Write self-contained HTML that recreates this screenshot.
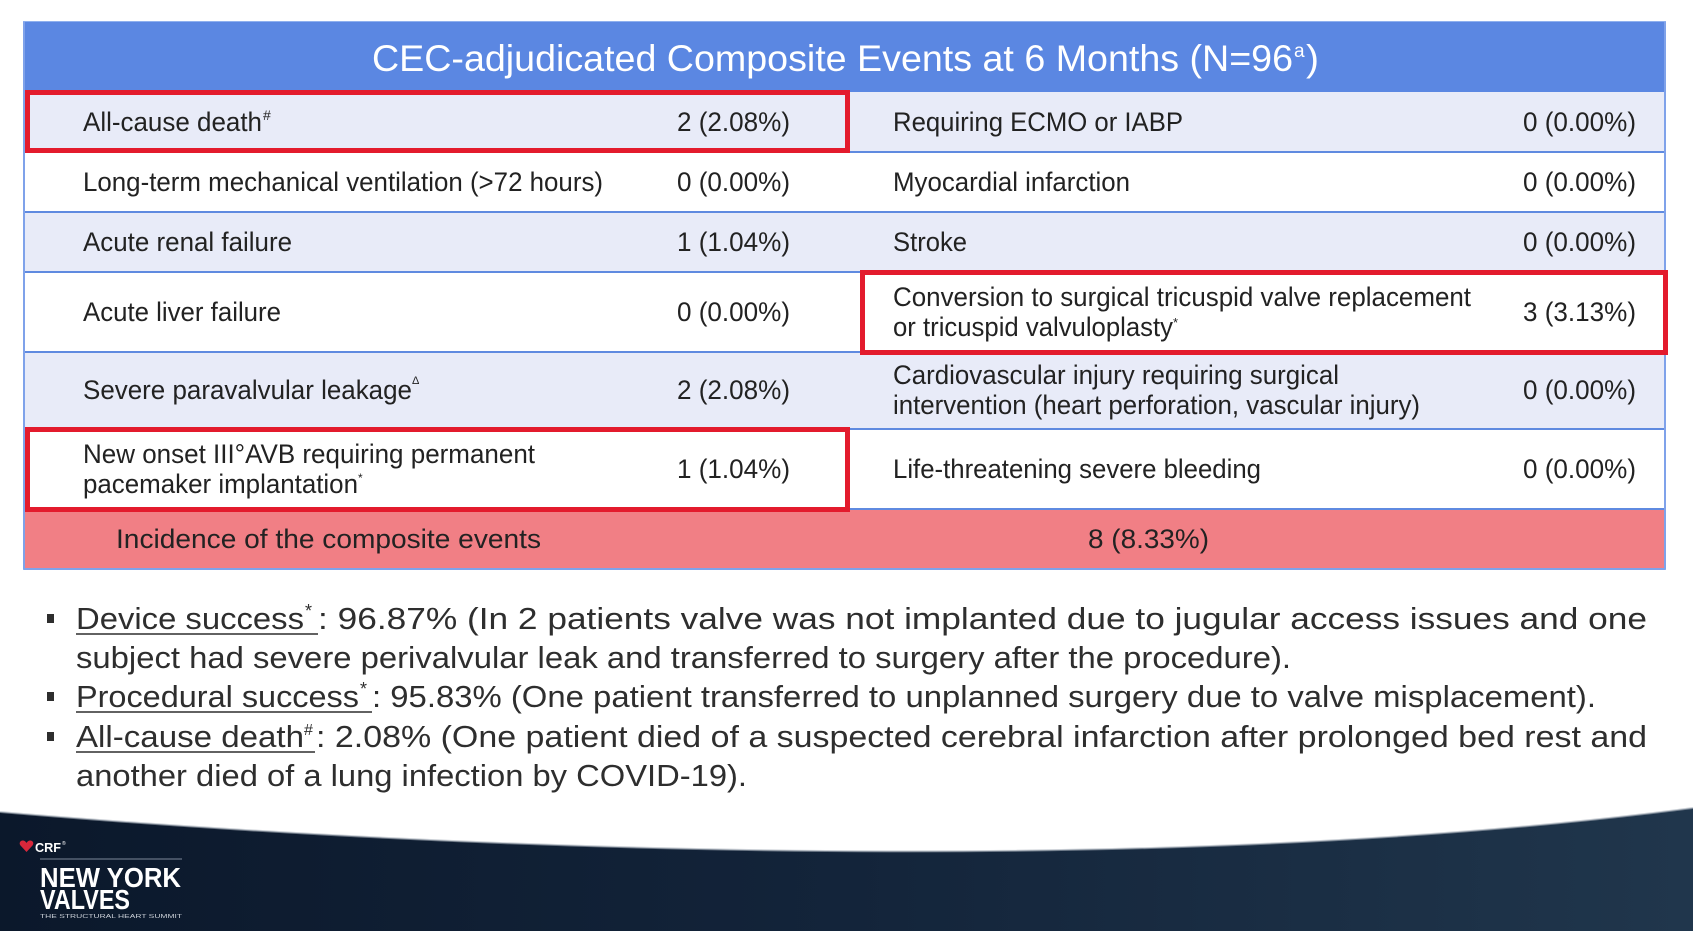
<!DOCTYPE html>
<html>
<head>
<meta charset="utf-8">
<style>
html,body{margin:0;padding:0;background:#fff;}
svg{display:block;}
text{font-family:"Liberation Sans",Arial,sans-serif;}
</style>
</head>
<body>
<svg width="1693" height="931" viewBox="0 0 1693 931" xmlns="http://www.w3.org/2000/svg">
<defs>
<linearGradient id="band" x1="0" y1="0" x2="1" y2="0">
<stop offset="0" stop-color="#0b182b"/>
<stop offset="0.5" stop-color="#13243a"/>
<stop offset="1" stop-color="#20364c"/>
</linearGradient>
</defs>
<rect x="0" y="0" width="1693" height="931" fill="#ffffff"/>

<!-- Table -->
<rect x="24" y="22" width="1641" height="547" fill="#ffffff" stroke="#8fb0ee" stroke-width="2"/>
<rect x="24" y="22" width="1641" height="70" fill="#5b87e2"/>
<rect x="25" y="92" width="1639" height="60" fill="#e8ebf8"/>
<rect x="25" y="152" width="1639" height="60" fill="#ffffff"/>
<rect x="25" y="212" width="1639" height="60" fill="#e8ebf8"/>
<rect x="25" y="272" width="1639" height="80" fill="#ffffff"/>
<rect x="25" y="352" width="1639" height="77" fill="#e8ebf8"/>
<rect x="25" y="429" width="1639" height="80" fill="#ffffff"/>
<rect x="25" y="509" width="1639" height="59" fill="#f17f85"/>
<g stroke="#5f8ae0" stroke-width="2">
<line x1="24" y1="152" x2="1665" y2="152"/>
<line x1="24" y1="212" x2="1665" y2="212"/>
<line x1="24" y1="272" x2="1665" y2="272"/>
<line x1="24" y1="352" x2="1665" y2="352"/>
<line x1="24" y1="429" x2="1665" y2="429"/>
<line x1="24" y1="509" x2="1665" y2="509"/>
</g>
<line x1="24" y1="22" x2="24" y2="569" stroke="#7fa2ea" stroke-width="2"/>
<line x1="1665" y1="22" x2="1665" y2="569" stroke="#7fa2ea" stroke-width="2"/>
<line x1="24" y1="569" x2="1665" y2="569" stroke="#7fa2ea" stroke-width="2"/>

<!-- Title -->
<text x="372" y="71" font-size="37" fill="#ffffff" textLength="921" lengthAdjust="spacingAndGlyphs">CEC-adjudicated Composite Events at 6 Months (N=96</text>
<text x="1294" y="57" font-size="19" fill="#ffffff">a</text>
<text x="1306" y="71" font-size="37" fill="#ffffff" textLength="13" lengthAdjust="spacingAndGlyphs">)</text>

<!-- Left column -->
<g font-size="26.5" fill="#222222">
<text x="83" y="131" textLength="179" lengthAdjust="spacingAndGlyphs">All-cause death</text>
<text x="263" y="120" font-size="14">#</text>
<text x="83" y="191" textLength="520" lengthAdjust="spacingAndGlyphs">Long-term mechanical ventilation (&gt;72 hours)</text>
<text x="83" y="251" textLength="209" lengthAdjust="spacingAndGlyphs">Acute renal failure</text>
<text x="83" y="321" textLength="198" lengthAdjust="spacingAndGlyphs">Acute liver failure</text>
<text x="83" y="399" textLength="329" lengthAdjust="spacingAndGlyphs">Severe paravalvular leakage</text>
<text x="412" y="384" font-size="11">Δ</text>
<text x="83" y="463" textLength="452" lengthAdjust="spacingAndGlyphs">New onset III°AVB requiring permanent</text>
<text x="83" y="493" textLength="275" lengthAdjust="spacingAndGlyphs">pacemaker implantation</text>
<text x="358" y="482" font-size="12">*</text>

<text x="677" y="131" textLength="113" lengthAdjust="spacingAndGlyphs">2 (2.08%)</text>
<text x="677" y="191" textLength="113" lengthAdjust="spacingAndGlyphs">0 (0.00%)</text>
<text x="677" y="251" textLength="113" lengthAdjust="spacingAndGlyphs">1 (1.04%)</text>
<text x="677" y="321" textLength="113" lengthAdjust="spacingAndGlyphs">0 (0.00%)</text>
<text x="677" y="399" textLength="113" lengthAdjust="spacingAndGlyphs">2 (2.08%)</text>
<text x="677" y="478" textLength="113" lengthAdjust="spacingAndGlyphs">1 (1.04%)</text>

<!-- Right column -->
<text x="893" y="131" textLength="290" lengthAdjust="spacingAndGlyphs">Requiring ECMO or IABP</text>
<text x="893" y="191" textLength="237" lengthAdjust="spacingAndGlyphs">Myocardial infarction</text>
<text x="893" y="251" textLength="74" lengthAdjust="spacingAndGlyphs">Stroke</text>
<text x="893" y="306" textLength="578" lengthAdjust="spacingAndGlyphs">Conversion to surgical tricuspid valve replacement</text>
<text x="893" y="336" textLength="280" lengthAdjust="spacingAndGlyphs">or tricuspid valvuloplasty</text>
<text x="1173" y="327" font-size="13">*</text>
<text x="893" y="384" textLength="446" lengthAdjust="spacingAndGlyphs">Cardiovascular injury requiring surgical</text>
<text x="893" y="414" textLength="527" lengthAdjust="spacingAndGlyphs">intervention (heart perforation, vascular injury)</text>
<text x="893" y="478" textLength="368" lengthAdjust="spacingAndGlyphs">Life-threatening severe bleeding</text>

<text x="1523" y="131" textLength="113" lengthAdjust="spacingAndGlyphs">0 (0.00%)</text>
<text x="1523" y="191" textLength="113" lengthAdjust="spacingAndGlyphs">0 (0.00%)</text>
<text x="1523" y="251" textLength="113" lengthAdjust="spacingAndGlyphs">0 (0.00%)</text>
<text x="1523" y="321" textLength="113" lengthAdjust="spacingAndGlyphs">3 (3.13%)</text>
<text x="1523" y="399" textLength="113" lengthAdjust="spacingAndGlyphs">0 (0.00%)</text>
<text x="1523" y="478" textLength="113" lengthAdjust="spacingAndGlyphs">0 (0.00%)</text>

<!-- Total -->
<text x="116" y="548" textLength="425" lengthAdjust="spacingAndGlyphs">Incidence of the composite events</text>
<text x="1088" y="548" textLength="121" lengthAdjust="spacingAndGlyphs">8 (8.33%)</text>
</g>

<!-- Red highlight boxes -->
<g fill="none" stroke="#e31b2d" stroke-width="5">
<rect x="27.5" y="92.5" width="820" height="58"/>
<rect x="862.5" y="272.5" width="803" height="80"/>
<rect x="27.5" y="429.5" width="820" height="80"/>
</g>

<!-- Bullets -->
<g fill="#2e2e2e" font-size="31">
<rect x="47" y="614" width="7" height="9"/>
<rect x="47" y="692" width="7" height="9"/>
<rect x="47" y="732" width="7" height="9"/>

<text x="76" y="629" textLength="228" lengthAdjust="spacingAndGlyphs">Device success</text>
<text x="305" y="617" font-size="18">*</text>
<text x="318" y="629" textLength="1329" lengthAdjust="spacingAndGlyphs">: 96.87% (In 2 patients valve was not implanted due to jugular access issues and one</text>
<line x1="76" y1="634" x2="318" y2="634" stroke="#2e2e2e" stroke-width="1.6"/>

<text x="76" y="668" textLength="1215" lengthAdjust="spacingAndGlyphs">subject had severe perivalvular leak and transferred to surgery after the procedure).</text>

<text x="76" y="707" textLength="283" lengthAdjust="spacingAndGlyphs">Procedural success</text>
<text x="360" y="695" font-size="18">*</text>
<text x="372" y="707" textLength="1224" lengthAdjust="spacingAndGlyphs">: 95.83% (One patient transferred to unplanned surgery due to valve misplacement).</text>
<line x1="76" y1="712" x2="372" y2="712" stroke="#2e2e2e" stroke-width="1.6"/>

<text x="76" y="747" textLength="228" lengthAdjust="spacingAndGlyphs">All-cause death</text>
<text x="304" y="735" font-size="16">#</text>
<text x="316" y="747" textLength="1331" lengthAdjust="spacingAndGlyphs">: 2.08% (One patient died of a suspected cerebral infarction after prolonged bed rest and</text>
<line x1="76" y1="752" x2="315" y2="752" stroke="#2e2e2e" stroke-width="1.6"/>

<text x="76" y="786" textLength="671" lengthAdjust="spacingAndGlyphs">another died of a lung infection by COVID-19).</text>
</g>

<!-- Footer band -->
<path d="M0,812 C 350,842 1100,885 1693,808 L1693,931 L0,931 Z" fill="url(#band)"/>
<path d="M0,812 C 350,842 1100,885 1693,808" fill="none" stroke="#a9b1bb" stroke-width="2" opacity="0.6"/>

<!-- Logo -->
<path d="M26.5,852 L20.5,845.5 C18.5,843 20.5,840 23.3,840.5 C25,840.8 26,842 26.5,843 C27,842 28,840.8 29.7,840.5 C32.5,840 34.5,843 32.5,845.5 Z" fill="#d8273b"/>
<text x="35" y="852" font-size="13" font-weight="bold" fill="#ffffff" textLength="26" lengthAdjust="spacingAndGlyphs">CRF</text>
<text x="62" y="845" font-size="5" fill="#ffffff">®</text>
<line x1="40" y1="859" x2="182" y2="859" stroke="#7d8899" stroke-width="1"/>
<text x="40" y="887" font-size="28" font-weight="bold" fill="#ffffff" textLength="141" lengthAdjust="spacingAndGlyphs">NEW YORK</text>
<text x="40" y="909" font-size="28" font-weight="bold" fill="#ffffff" textLength="90" lengthAdjust="spacingAndGlyphs">VALVES</text>
<text x="40" y="918" font-size="5.5" fill="#c9ced6" textLength="142" lengthAdjust="spacingAndGlyphs">THE STRUCTURAL HEART SUMMIT</text>
</svg>
</body>
</html>
